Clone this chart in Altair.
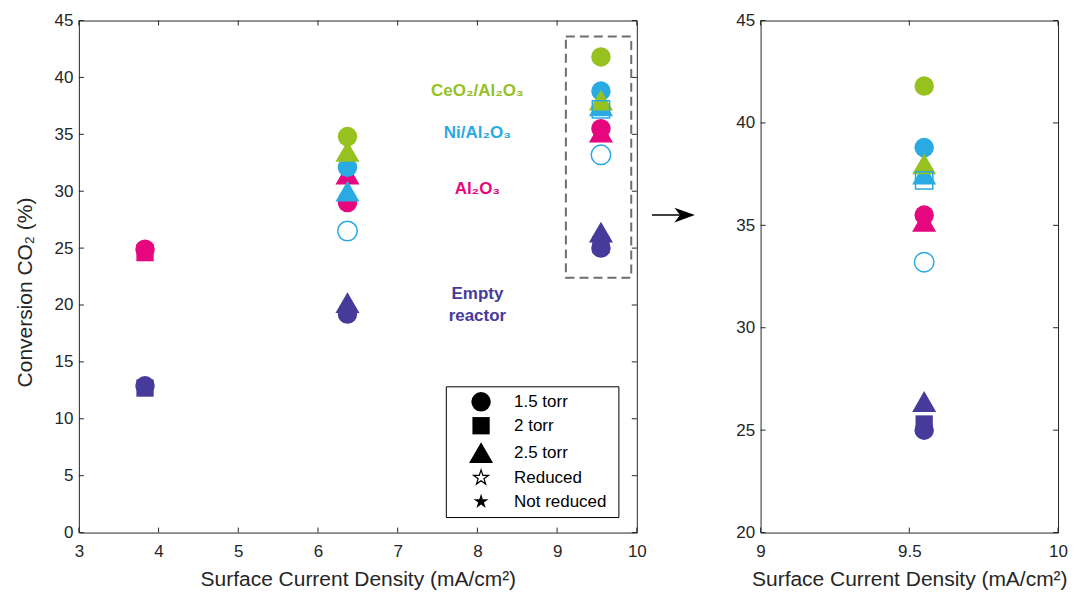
import altair as alt
import pandas as pd

# ---------------- data ----------------
MATERIALS = ["Empty reactor", "Al₂O₃", "Ni/Al₂O₃", "CeO₂/Al₂O₃"]
COLORS = ["#463A9B", "#E6077E", "#2AAAE2", "#96C11F"]

STAR = ("M0,-1 L0.2245,-0.309 L0.951,-0.309 L0.363,0.118 L0.588,0.809 L0,0.382 "
        "L-0.588,0.809 L-0.363,0.118 L-0.951,-0.309 L-0.2245,-0.309 Z")
ARROWHEAD = "M1,0 L-1,-0.72 L-0.45,0 L-1,0.72 Z"

LEGEND_KEYS = ["1.5 torr", "2 torr", "2.5 torr", "Reduced", "Not reduced"]
LEGEND_SHAPES = ["circle", "square", "triangle-up", STAR, STAR]
LEGEND_OPEN = [False, False, False, True, False]
MARKER_SIZES = [380, 300, 580, 250, 250]
LEGEND_SYMBOL_SIZES = [320, 220, 480, 260, 260]

EMPTY_X = [3.83, 3.83, 6.37, 6.37, 9.55, 9.55, 9.55]
EMPTY_Y = [12.7, 12.9, 20.2, 19.2, 25.3, 25.0, 26.4]
EMPTY_P = ["2 torr", "1.5 torr", "2.5 torr", "1.5 torr", "2 torr", "1.5 torr", "2.5 torr"]

AL_X = [3.83, 3.83, 6.37, 6.37, 9.55, 9.55]
AL_Y = [24.6, 24.9, 31.5, 29.0, 35.2, 35.5]
AL_P = ["2 torr", "1.5 torr", "2.5 torr", "1.5 torr", "2.5 torr", "1.5 torr"]

NI_X = [6.37, 6.37, 9.55, 9.55]
NI_Y = [30.0, 32.1, 37.5, 38.8]
NI_P = ["2.5 torr", "1.5 torr", "2.5 torr", "1.5 torr"]

NIR_X = [6.37, 9.55, 9.55]
NIR_Y = [26.5, 33.2, 37.2]
NIR_P = ["1.5 torr", "1.5 torr", "2 torr"]

CE_X = [6.37, 6.37, 9.55, 9.55]
CE_Y = [33.5, 34.8, 38.0, 41.8]
CE_P = ["2.5 torr", "1.5 torr", "2.5 torr", "1.5 torr"]

ANN_TEXT = ["CeO₂/Al₂O₃", "Ni/Al₂O₃", "Al₂O₃", "Empty", "reactor"]
ANN_X = [8.0, 8.0, 8.0, 8.0, 8.0]
ANN_Y = [38.8, 35.1, 30.2, 21.0, 19.0]
ANN_MAT = ["CeO₂/Al₂O₃", "Ni/Al₂O₃", "Al₂O₃", "Empty reactor", "Empty reactor"]

# layout of annotations (in data units of the left panel)
BOX_X = [9.11, 9.93]
BOX_Y = [22.4, 43.6]
ARROW_X = [10.19, 10.60]
ARROW_Y = [27.9]
LEG_BOX_X = [7.61, 9.775]
LEG_BOX_Y = [1.32, 12.81]
LEG_SYM_X = 8.046
LEG_TXT_X = 8.46
LEG_ROW_Y = [11.49, 9.39, 7.02, 4.82, 2.72]

LX_TICKS = [3, 4, 5, 6, 7, 8, 9, 10]
LY_TICKS = [0, 5, 10, 15, 20, 25, 30, 35, 40, 45]
RX_TICKS = [9, 9.5, 10]
RY_TICKS = [20, 25, 30, 35, 40, 45]

# ---------------- tables ----------------
rows = []
for xs, ys, ps, mat, red in [
    (EMPTY_X, EMPTY_Y, EMPTY_P, MATERIALS[0], False),
    (AL_X, AL_Y, AL_P, MATERIALS[1], False),
    (NI_X, NI_Y, NI_P, MATERIALS[2], False),
    (CE_X, CE_Y, CE_P, MATERIALS[3], False),
    (NIR_X, NIR_Y, NIR_P, MATERIALS[2], True),
]:
    for x, y, p in zip(xs, ys, ps):
        rows.append({"x": x, "y": y, "key": p, "material": mat, "reduced": red})
pts = pd.DataFrame(rows)

ann = pd.DataFrame({"x": ANN_X, "y": ANN_Y, "text": ANN_TEXT, "material": ANN_MAT})
box_df = pd.DataFrame({"x": [BOX_X[0]], "x2": [BOX_X[1]], "y": [BOX_Y[0]], "y2": [BOX_Y[1]]})
arrow_df = pd.DataFrame({"x": [ARROW_X[0]], "x2": [ARROW_X[1]], "y": ARROW_Y})
head_df = pd.DataFrame({"x": [ARROW_X[1]], "y": ARROW_Y})
legbox_df = pd.DataFrame({"x": [LEG_BOX_X[0]], "x2": [LEG_BOX_X[1]],
                          "y": [LEG_BOX_Y[0]], "y2": [LEG_BOX_Y[1]]})
leg_df = pd.DataFrame({"key": LEGEND_KEYS, "open": LEGEND_OPEN,
                       "sx": [LEG_SYM_X] * 5, "tx": [LEG_TXT_X] * 5, "y": LEG_ROW_Y})

FONT = "Liberation Sans"
AX = "#262626"

shape_scale = alt.Scale(domain=LEGEND_KEYS, range=LEGEND_SHAPES)
size_scale = alt.Scale(type="ordinal", domain=LEGEND_KEYS, range=MARKER_SIZES)
leg_size_scale = alt.Scale(type="ordinal", domain=LEGEND_KEYS, range=LEGEND_SYMBOL_SIZES)
color_scale = alt.Scale(domain=MATERIALS, range=COLORS)


def panel(xdom, ydom, xticks, yticks, W, H, data, ytitle, title_y, extras):
    xs = alt.Scale(domain=xdom, nice=False, zero=False)
    ys = alt.Scale(domain=ydom, nice=False, zero=False)
    xaxis = alt.Axis(values=xticks, format="~g", title="Surface Current Density (mA/cm²)",
                     labelFlush=False, labelOverlap=False)
    if ytitle:
        yaxis = alt.Axis(values=yticks, format="~g", title=ytitle,
                         labelOverlap=False, titleY=title_y)
    else:
        yaxis = alt.Axis(values=yticks, format="~g", title=None, labelOverlap=False)

    base_enc = dict(
        x=alt.X("x:Q", scale=xs, axis=xaxis),
        y=alt.Y("y:Q", scale=ys, axis=yaxis),
        shape=alt.Shape("key:N", scale=shape_scale, legend=None),
        size=alt.Size("key:N", scale=size_scale, legend=None),
        color=alt.Color("material:N", scale=color_scale, legend=None),
    )
    filled = alt.Chart(data[~data["reduced"]]).mark_point(
        filled=True, opacity=1, strokeWidth=0).encode(**base_enc)
    opened = alt.Chart(data[data["reduced"]]).mark_point(
        filled=False, opacity=1, strokeWidth=1.5).encode(**base_enc)

    tick_df_y = pd.DataFrame({"v": yticks})
    tick_df_x = pd.DataFrame({"v": xticks})
    tl = alt.Chart(tick_df_y).mark_rule(color=AX, strokeWidth=1).encode(
        y=alt.Y("v:Q", scale=ys), x=alt.value(0), x2=alt.value(5))
    tr = alt.Chart(tick_df_y).mark_rule(color=AX, strokeWidth=1).encode(
        y=alt.Y("v:Q", scale=ys), x=alt.value(W - 5), x2=alt.value(W))
    tb = alt.Chart(tick_df_x).mark_rule(color=AX, strokeWidth=1).encode(
        x=alt.X("v:Q", scale=xs), y=alt.value(H - 5), y2=alt.value(H))
    tt = alt.Chart(tick_df_x).mark_rule(color=AX, strokeWidth=1).encode(
        x=alt.X("v:Q", scale=xs), y=alt.value(0), y2=alt.value(5))

    layers = [filled, opened] + [tl, tr, tb, tt] + extras(xs, ys)
    return alt.layer(*layers).properties(width=W, height=H)


def left_extras(xs, ys):
    box = alt.Chart(box_df).mark_rect(
        fillOpacity=0, stroke="#6E6E6E", strokeWidth=2, strokeDash=[9, 5]).encode(
        x=alt.X("x:Q", scale=xs), x2="x2", y=alt.Y("y:Q", scale=ys), y2="y2")
    arrow = alt.Chart(arrow_df).mark_rule(color="black", strokeWidth=1.5).encode(
        x=alt.X("x:Q", scale=xs), x2="x2", y=alt.Y("y:Q", scale=ys))
    head = alt.Chart(head_df).mark_point(
        shape=ARROWHEAD, filled=True, color="black",
        opacity=1, size=420, strokeWidth=0).encode(
        x=alt.X("x:Q", scale=xs), y=alt.Y("y:Q", scale=ys))
    labels = alt.Chart(ann).mark_text(
        font=FONT, fontSize=17, fontWeight="bold", align="center", baseline="middle").encode(
        x=alt.X("x:Q", scale=xs), y=alt.Y("y:Q", scale=ys), text="text:N",
        color=alt.Color("material:N", scale=color_scale, legend=None))

    # legend, drawn through the panel's scales
    lbox = alt.Chart(legbox_df).mark_rect(
        fill="white", stroke="black", strokeWidth=1).encode(
        x=alt.X("x:Q", scale=xs), x2="x2", y=alt.Y("y:Q", scale=ys), y2="y2")
    lsym_f = alt.Chart(leg_df[~leg_df["open"]]).mark_point(
        filled=True, color="black", opacity=1, strokeWidth=0).encode(
        x=alt.X("sx:Q", scale=xs), y=alt.Y("y:Q", scale=ys),
        shape=alt.Shape("key:N", scale=shape_scale, legend=None),
        size=alt.Size("key:N", scale=leg_size_scale, legend=None))
    lsym_o = alt.Chart(leg_df[leg_df["open"]]).mark_point(
        filled=False, color="black", opacity=1, strokeWidth=1.2).encode(
        x=alt.X("sx:Q", scale=xs), y=alt.Y("y:Q", scale=ys),
        shape=alt.Shape("key:N", scale=shape_scale, legend=None),
        size=alt.Size("key:N", scale=leg_size_scale, legend=None))
    ltxt = alt.Chart(leg_df).mark_text(
        font=FONT, fontSize=17, color="black", align="left", baseline="middle").encode(
        x=alt.X("tx:Q", scale=xs), y=alt.Y("y:Q", scale=ys), text="key:N")
    return [box, arrow, head, labels, lbox, lsym_f, lsym_o, ltxt]


left = panel([3, 10], [0, 45], LX_TICKS, LY_TICKS, 559, 513, pts,
             "Conversion  CO₂ (%)", 272, left_extras)
right = panel([9, 10], [20, 45], RX_TICKS, RY_TICKS, 298, 513,
              pts[pts["x"] > 9].reset_index(drop=True), None, None,
              lambda xs, ys: [])

chart = alt.hconcat(left, right, spacing=39).resolve_scale(
    color="independent", shape="independent", size="independent"
).properties(
    padding={"left": 5, "top": 2, "right": 0, "bottom": 0}
).configure_view(
    stroke=AX, strokeWidth=1
).configure_axis(
    domain=False, ticks=False, grid=False,
    labelFont=FONT, labelFontSize=17, labelColor=AX, labelPadding=11,
    titleFont=FONT, titleFontSize=21, titleFontWeight="normal", titleColor=AX,
    titlePadding=9
).configure_axisY(labelPadding=6, titlePadding=19)

chart.save("out.html", embed_options={"renderer": "svg", "actions": False})
